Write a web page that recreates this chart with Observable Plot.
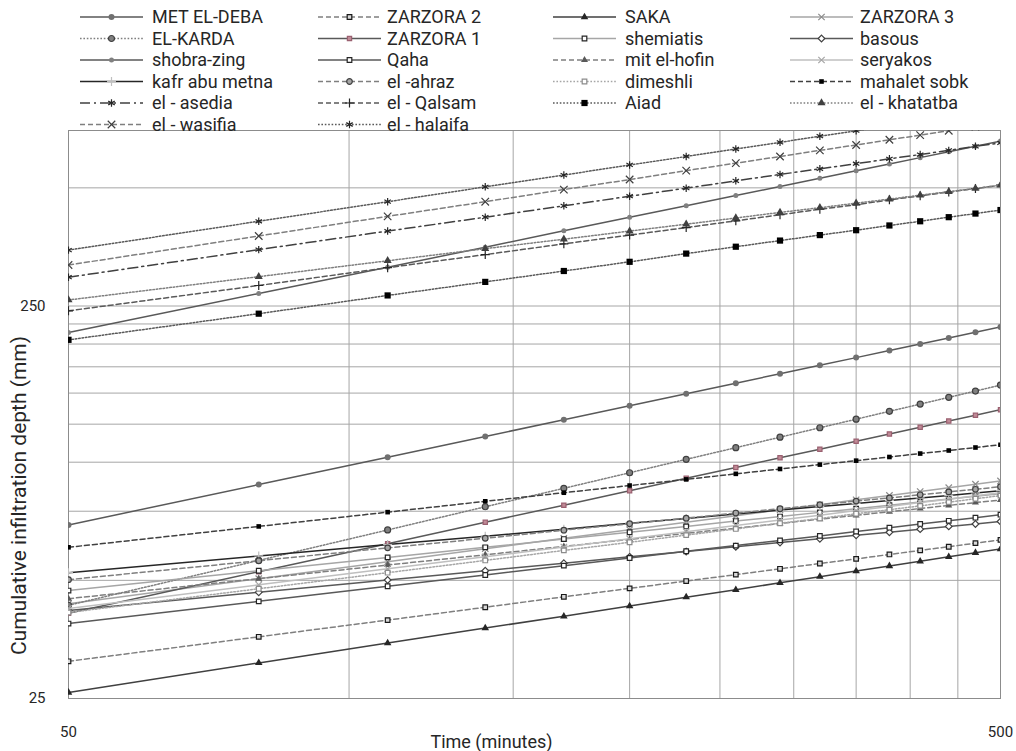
<!DOCTYPE html>
<html><head><meta charset="utf-8">
<script src="https://cdn.jsdelivr.net/npm/d3@7"></script>
<script src="https://cdn.jsdelivr.net/npm/@observablehq/plot@0.6"></script>
<style>
body{margin:0;background:#fff;font-family:Roboto,sans-serif;}
#wrap{position:relative;width:1016px;height:751px;overflow:hidden;background:#fff;}
#legend{position:absolute;left:0;top:0;z-index:2;}
#chart{position:absolute;left:0;top:125px;}
</style></head><body>
<div id="wrap"><svg id="legend" width="1016" height="135"></svg><div id="chart"></div></div>
<script>
// ---- data ----
const times = [50,80,110,140,170,200,230,260,290,320,350,380,410,440,470,500];
const xTicks = [50, 500];
const yTicks = [25, 250];
const xGrid = [100,150,200,250,300,350,400,450];
const yGrid = [50,75,100,125,150,175,200,225,250,500];

const metElDeba   = [69.2,87.7,103.0,116.3,128.3,139.3,149.5,159.0,168.0,176.5,184.7,192.5,200.0,207.3,214.3,221.1];
const zarzora2    = [31.1,35.9,39.6,42.7,45.4,47.7,49.8,51.7,53.5,55.2,56.7,58.2,59.6,60.9,62.2,63.4];
const saka        = [25.9,30.8,34.6,37.8,40.5,43.0,45.3,47.3,49.3,51.1,52.8,54.4,55.9,57.4,58.8,60.1];
const zarzora3    = [43.6,50.5,55.8,60.2,64.0,67.3,70.3,73.0,75.6,77.9,80.2,82.3,84.2,86.1,87.9,89.6];
const elKarda     = [43.2,56.2,67.2,77.0,85.8,94.0,101.7,108.9,115.8,122.4,128.7,134.8,140.6,146.3,151.8,157.2];
const zarzora1    = [41.2,52.6,62.0,70.3,77.7,84.6,91.0,96.9,102.6,107.9,113.1,118.0,122.8,127.3,131.7,136.1];
const shemiatis   = [47.1,52.9,57.2,60.7,63.7,66.3,68.6,70.8,72.7,74.5,76.1,77.7,79.2,80.6,81.9,83.1];
const basous      = [41.9,46.6,50.1,52.9,55.3,57.4,59.2,60.9,62.4,63.8,65.1,66.3,67.5,68.6,69.6,70.6];
const shobraZing  = [214,269,314,353,389,421,450,478,504,529,553,575,597,618,638,658];
const qaha        = [38.8,44.2,48.3,51.6,54.5,57.0,59.3,61.3,63.2,64.9,66.6,68.1,69.6,70.9,72.2,73.5];
const mitElHofin  = [44.9,50.5,54.7,58.1,61.0,63.6,65.9,67.9,69.8,71.6,73.2,74.8,76.2,77.6,78.9,80.1];
const seryakos    = [42.4,48.7,53.5,57.4,60.8,63.8,66.5,69.0,71.2,73.3,75.3,77.1,78.9,80.5,82.1,83.6];
const kafrAbuMetna= [52.3,57.7,61.7,64.8,67.5,69.9,71.9,73.8,75.5,77.1,78.5,79.9,81.1,82.3,83.5,84.6];
const elAhraz     = [50.2,56.1,60.5,64.0,67.1,69.7,72.0,74.2,76.1,77.9,79.6,81.1,82.6,84.0,85.3,86.6];
const dimeshli    = [41.4,47.6,52.3,56.2,59.6,62.5,65.2,67.6,69.9,71.9,73.9,75.7,77.4,79.1,80.7,82.2];
const mahaletSobk = [60.7,68.6,74.6,79.5,83.6,87.2,90.4,93.4,96.1,98.6,100.9,103.1,105.2,107.1,109.0,110.8];
const elAsedia    = [296,348,388,421,450,476,499,521,541,559,576,593,608,623,638,651];
const elQalsam    = [243,282,313,338,360,379,396,412,427,441,453,466,477,488,498,508];
const aiad        = [205,239,266,288,307,324,340,354,367,379,390,401,411,421,430,439];
const elKhatatba  = [259,297,326,350,370,388,404,419,433,445,457,468,479,489,498,508];
const elWasifia   = [318,377,423,461,495,525,553,578,601,623,643,663,681,699,716,732];
const elHalaifa   = [347,411,461,503,539,572,601,628,653,677,699,720,740,759,777,795];

const seriesNames = ["MET EL-DEBA","ZARZORA 2","SAKA","ZARZORA 3","EL-KARDA","ZARZORA 1","shemiatis","basous",
  "shobra-zing","Qaha","mit el-hofin","seryakos","kafr abu metna","el -ahraz","dimeshli","mahalet sobk",
  "el - asedia","el - Qalsam","Aiad","el - khatatba","el - wasifia","el - halaifa"];
const seriesValues = [metElDeba,zarzora2,saka,zarzora3,elKarda,zarzora1,shemiatis,basous,
  shobraZing,qaha,mitElHofin,seryakos,kafrAbuMetna,elAhraz,dimeshli,mahaletSobk,
  elAsedia,elQalsam,aiad,elKhatatba,elWasifia,elHalaifa];

// ---- styles ----
const DASH = "5,3", DOT = "1.6,1.8", DASHDOT = "10,4,2,4";
const styles = [
  {stroke:"#595959", dash:null,    symbol:"circle",   r:3,   fill:"#707070", mstroke:"none"},
  {stroke:"#7f7f7f", dash:DASH,    symbol:"square",   r:2.6, fill:"#d9d9d9", mstroke:"#1a1a1a"},
  {stroke:"#404040", dash:null,    symbol:"triangle", r:2.8, fill:"#262626", mstroke:"none"},
  {stroke:"#a6a6a6", dash:null,    symbol:"times",    r:3,   fill:"none",    mstroke:"#8c8c8c"},
  {stroke:"#7f7f7f", dash:DOT,     symbol:"circle",   r:3,   fill:"#808080", mstroke:"#404040"},
  {stroke:"#595959", dash:null,    symbol:"square",   r:2.4, fill:"#c08a96", mstroke:"#9a6070"},
  {stroke:"#a6a6a6", dash:null,    symbol:"square",   r:2.6, fill:"#ffffff", mstroke:"#262626"},
  {stroke:"#595959", dash:null,    symbol:"diamond2", r:3,   fill:"#ffffff", mstroke:"#404040"},
  {stroke:"#595959", dash:null,    symbol:"circle",   r:2.5, fill:"#808080", mstroke:"none"},
  {stroke:"#595959", dash:null,    symbol:"square",   r:2.6, fill:"#ffffff", mstroke:"#262626"},
  {stroke:"#7f7f7f", dash:DASH,    symbol:"triangle", r:2.6, fill:"#595959", mstroke:"none"},
  {stroke:"#bfbfbf", dash:null,    symbol:"times",    r:3,   fill:"none",    mstroke:"#a6a6a6"},
  {stroke:"#262626", dash:null,    symbol:"plus",     r:3,   fill:"none",    mstroke:"#bfbfbf"},
  {stroke:"#7f7f7f", dash:DASH,    symbol:"circle",   r:2.8, fill:"#a6a6a6", mstroke:"#404040"},
  {stroke:"#a6a6a6", dash:DOT,     symbol:"square",   r:2.6, fill:"#ffffff", mstroke:"#8c8c8c"},
  {stroke:"#404040", dash:DASH,    symbol:"square",   r:2.6, fill:"#000000", mstroke:"none"},
  {stroke:"#404040", dash:DASHDOT, symbol:"asterisk", r:3.5, fill:"none",    mstroke:"#262626"},
  {stroke:"#595959", dash:DASH,    symbol:"plus",     r:3,   fill:"none",    mstroke:"#262626"},
  {stroke:"#595959", dash:DOT,     symbol:"square",   r:3.5, fill:"#000000", mstroke:"none"},
  {stroke:"#7f7f7f", dash:DOT,     symbol:"triangle", r:3,   fill:"#404040", mstroke:"none"},
  {stroke:"#7f7f7f", dash:DASH,    symbol:"times",    r:3.5, fill:"none",    mstroke:"#404040"},
  {stroke:"#595959", dash:DOT,     symbol:"asterisk", r:3.5, fill:"none",    mstroke:"#262626"}
];

const rows = [];
seriesNames.forEach((name, i) => times.forEach((t, j) => rows.push({name, t, v: seriesValues[i][j]})));

const seriesMarks = seriesNames.flatMap((name, i) => {
  const s = styles[i];
  const data = rows.filter(d => d.name === name);
  return [
    Plot.line(data, {x:"t", y:"v", stroke:s.stroke, strokeWidth:1.5, strokeDasharray:s.dash || undefined, clip:true}),
    Plot.dot(data, {x:"t", y:"v", symbol:s.symbol, r:s.r, fill:s.fill, stroke:s.mstroke, strokeWidth:1.2, clip:true})
  ];
});

const chart = Plot.plot({
  width:1016, height:626,
  marginLeft:68, marginRight:16, marginTop:5, marginBottom:53,
  style:{fontFamily:"Roboto, sans-serif", color:"#262626", background:"#fff"},
  x:{type:"log", domain:[50,500]},
  y:{type:"log", domain:[25,700]},
  marks:[
    Plot.ruleX(xGrid, {stroke:"#a6a6a6", strokeWidth:1}),
    Plot.ruleY(yGrid, {stroke:"#a6a6a6", strokeWidth:1}),
    Plot.frame({stroke:"#8c8c8c"}),
    ...seriesMarks,
    Plot.axisX({ticks:xTicks, tickSize:0, tickPadding:28, fontSize:15, label:null, tickFormat:d => String(d)}),
    Plot.axisY({ticks:yTicks, tickSize:0, tickPadding:23, fontSize:15, label:null, tickFormat:d => String(d)}),
    Plot.text(["Time (minutes)"], {frameAnchor:"bottom", textAnchor:"middle", lineAnchor:"middle", dy:44, dx:-43, fontSize:18, fill:"#262626"}),
    Plot.text(["Cumulative infiltration depth (mm)"], {frameAnchor:"left", textAnchor:"middle", lineAnchor:"middle", rotate:-90, dx:-49, dy:81, fontSize:21, fill:"#262626"})
  ]
});
document.getElementById("chart").appendChild(chart);

// ---- legend ----
const symbolMap = {circle:d3.symbolCircle, square:d3.symbolSquare, triangle:d3.symbolTriangle,
  diamond2:d3.symbolDiamond2, times:d3.symbolTimes, plus:d3.symbolPlus, asterisk:d3.symbolAsterisk};
const lg = d3.select("#legend");
const colLine = [80, 318, 553, 790], colText = [152, 387, 625, 860];
seriesNames.forEach((name, i) => {
  const s = styles[i];
  const col = i % 4, row = Math.floor(i / 4);
  const y = 17 + row * 21.5;
  const x0 = colLine[col], x1 = x0 + 63;
  lg.append("line").attr("x1", x0).attr("x2", x1).attr("y1", y).attr("y2", y)
    .attr("stroke", s.stroke).attr("stroke-width", 1.5).attr("stroke-dasharray", s.dash);
  lg.append("path").attr("d", d3.symbol(symbolMap[s.symbol], s.r * s.r * Math.PI)())
    .attr("transform", `translate(${(x0 + x1) / 2},${y})`)
    .attr("fill", s.fill).attr("stroke", s.mstroke).attr("stroke-width", 1.2);
  lg.append("text").attr("x", colText[col]).attr("y", y).attr("dy", "0.36em")
    .attr("font-size", 18).attr("fill", "#262626").attr("font-family", "Roboto, sans-serif").text(name);
});
</script>
</body></html>
